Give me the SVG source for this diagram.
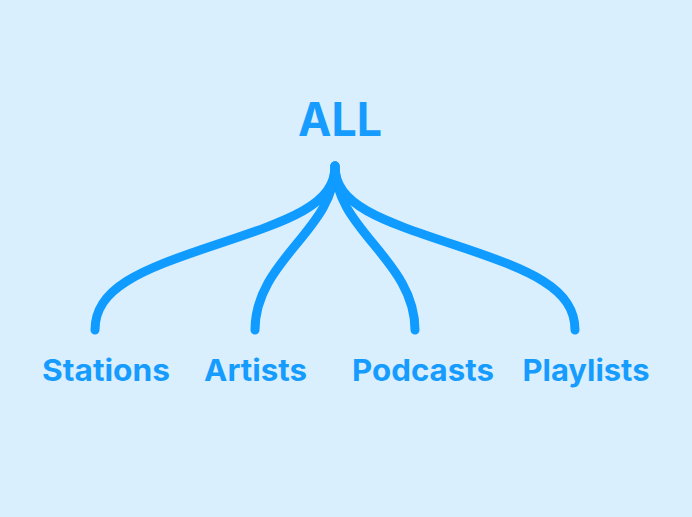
<svg xmlns="http://www.w3.org/2000/svg" width="692" height="517" viewBox="0 0 692 517">
<style>
.lbl{font-family:Inter,"Liberation Sans",sans-serif;font-weight:700;fill:#169cff;text-anchor:middle}
.sm{font-size:30px}
.edge{fill:none;stroke:#0f9bff;stroke-width:9;stroke-linecap:round}
</style>
<rect width="692" height="517" fill="#d9effd"/>
<g id="connectors">
<path class="edge" d="M335,166 C335,205 290,220 215,245 S95,288 95,330"/>
<path class="edge" d="M335,166 C335,230 255,260 255,330"/>
<path class="edge" d="M335,166 C335,230 415,260 415,330"/>
<path class="edge" d="M335,166 C335,205 380,220 455,245 S575,288 575,330"/>
</g>
<g id="all"><text class="lbl" x="340" y="136" font-size="46" textLength="84" lengthAdjust="spacingAndGlyphs">ALL</text></g>
<g id="stations"><text class="lbl sm" x="106" y="381" textLength="128" lengthAdjust="spacingAndGlyphs">Stations</text></g>
<g id="artists"><text class="lbl sm" x="255.5" y="381" textLength="103" lengthAdjust="spacingAndGlyphs">Artists</text></g>
<g id="podcasts"><text class="lbl sm" x="423" y="381" textLength="142" lengthAdjust="spacingAndGlyphs">Podcasts</text></g>
<g id="playlists"><text class="lbl sm" x="586" y="381" textLength="127" lengthAdjust="spacingAndGlyphs">Playlists</text></g>
</svg>
